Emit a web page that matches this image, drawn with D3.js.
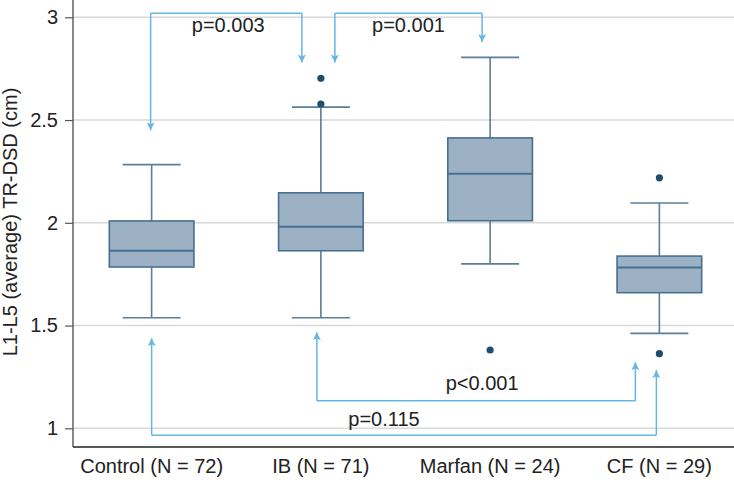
<!DOCTYPE html>
<html lang="en">
  <head>
    <meta charset="UTF-8" />
    <title>L1-L5 TR-DSD boxplot</title>
    <script src="https://d3js.org/d3.v7.min.js"></script>
    <style>
      body {
        margin: 0;
        background: white;
      }
      svg {
        display: block;
        font-family: "Liberation Sans", Arial, Helvetica, sans-serif;
      }
    </style>
  </head>
  <body>
    <svg id="chart" width="734" height="484"></svg>

    <script>
      // groups and box statistics
      const groups = ["Control (N = 72)", "IB (N = 71)", "Marfan (N = 24)", "CF (N = 29)"];
      const lowWhisker = [1.538, 1.538, 1.80, 1.462];
      const q1 = [1.785, 1.864, 2.010, 1.660];
      const median = [1.864, 1.981, 2.239, 1.783];
      const q3 = [2.009, 2.146, 2.413, 1.838];
      const highWhisker = [2.283, 2.563, 2.805, 2.096];
      const outliers = [[], [2.578, 2.703], [1.381], [2.219, 1.363]];

      const yTicks = [1, 1.5, 2, 2.5, 3];

      // comparisons: from group, to group, label, where the arrows end
      const comparisons = [
        { from: 0, to: 1, label: "p=0.003", level: 3.02, tipFrom: 2.45, tipTo: 2.78, labelAt: 2.93 },
        { from: 1, to: 2, label: "p=0.001", level: 3.02, tipFrom: 2.78, tipTo: 2.88, labelAt: 2.93 },
        { from: 1, to: 3, label: "p<0.001", level: 1.134, tipFrom: 1.468, tipTo: 1.322, labelAt: 1.188 },
        { from: 0, to: 3, label: "p=0.115", level: 0.966, tipFrom: 1.438, tipTo: 1.283, labelAt: 1.013 },
      ];
      // arms sit a little off the box centres, labels a little off the bracket middle
      const armShift = [[-1, -19], [14, -8], [-4, -24], [0, -3]];
      const labelShift = [2, 0, 6, -20];

      const svg = d3.select("#chart");
      const width = 734;
      const left = 73;
      const bottom = 447;

      const y = d3.scaleLinear().domain([1, 3]).range([428.3, 17.3]);
      const x = d3.scaleBand().domain(groups).range([67, 744]).paddingInner(0.5).paddingOuter(0.25);
      const cx = (i) => x(groups[i]) + x.bandwidth() / 2;

      // grid
      svg
        .append("g")
        .selectAll("line")
        .data(yTicks)
        .join("line")
        .attr("x1", left)
        .attr("x2", width)
        .attr("y1", (d) => y(d))
        .attr("y2", (d) => y(d))
        .attr("stroke", "#d9d9d9")
        .attr("stroke-width", 1.6);

      // y axis
      const yAxis = svg
        .append("g")
        .attr("transform", `translate(${left},0)`)
        .call(d3.axisLeft(y).tickValues(yTicks).tickFormat(d3.format("")).tickSize(8).tickPadding(7));
      yAxis.select(".domain").remove();
      yAxis.selectAll(".tick line").attr("stroke", "#555").attr("stroke-width", 1.2);
      yAxis.selectAll(".tick text").attr("font-size", 20).attr("fill", "#222").attr("font-family", null);
      svg
        .append("line")
        .attr("x1", left)
        .attr("x2", left)
        .attr("y1", 0)
        .attr("y2", bottom)
        .attr("stroke", "#555")
        .attr("stroke-width", 1.4);

      // x axis
      svg
        .append("line")
        .attr("x1", left)
        .attr("x2", width)
        .attr("y1", bottom)
        .attr("y2", bottom)
        .attr("stroke", "#222")
        .attr("stroke-width", 1.6);
      svg
        .append("g")
        .selectAll("text")
        .data(groups)
        .join("text")
        .attr("x", (d) => x(d) + x.bandwidth() / 2)
        .attr("y", 473)
        .attr("text-anchor", "middle")
        .attr("font-size", 20)
        .attr("fill", "#222")
        .text((d) => d);

      svg
        .append("text")
        .attr("transform", "translate(17,222) rotate(-90)")
        .attr("text-anchor", "middle")
        .attr("font-size", 20)
        .attr("fill", "#222")
        .text("L1-L5 (average) TR-DSD (cm)");

      // boxes
      const boxColor = "#9db1c5";
      const boxStroke = "#47708f";
      const whiskerColor = "#5a7d98";
      const capHalf = 29;

      const box = svg
        .append("g")
        .selectAll("g")
        .data(groups.map((g, i) => i))
        .join("g");

      box
        .append("line")
        .attr("x1", (i) => cx(i))
        .attr("x2", (i) => cx(i))
        .attr("y1", (i) => y(lowWhisker[i]))
        .attr("y2", (i) => y(highWhisker[i]))
        .attr("stroke", whiskerColor)
        .attr("stroke-width", 1.6);
      [lowWhisker, highWhisker].forEach((arr) => {
        box
          .append("line")
          .attr("x1", (i) => cx(i) - capHalf)
          .attr("x2", (i) => cx(i) + capHalf)
          .attr("y1", (i) => y(arr[i]))
          .attr("y2", (i) => y(arr[i]))
          .attr("stroke", whiskerColor)
          .attr("stroke-width", 1.6);
      });
      box
        .append("rect")
        .attr("x", (i) => x(groups[i]))
        .attr("width", x.bandwidth())
        .attr("y", (i) => y(q3[i]))
        .attr("height", (i) => y(q1[i]) - y(q3[i]))
        .attr("fill", boxColor)
        .attr("stroke", boxStroke)
        .attr("stroke-width", 1.6);
      box
        .append("line")
        .attr("x1", (i) => x(groups[i]))
        .attr("x2", (i) => x(groups[i]) + x.bandwidth())
        .attr("y1", (i) => y(median[i]))
        .attr("y2", (i) => y(median[i]))
        .attr("stroke", boxStroke)
        .attr("stroke-width", 2);
      box
        .selectAll("circle")
        .data((i) => outliers[i].map((v) => ({ i, v })))
        .join("circle")
        .attr("cx", (d) => cx(d.i))
        .attr("cy", (d) => y(d.v))
        .attr("r", 3.6)
        .attr("fill", "#1f4d6c");

      // comparison brackets
      const blue = "#66b5e6";
      svg
        .append("defs")
        .append("marker")
        .attr("id", "arrow")
        .attr("viewBox", "0 -5 10 10")
        .attr("refX", 10)
        .attr("refY", 0)
        .attr("markerWidth", 10)
        .attr("markerHeight", 8)
        .attr("markerUnits", "userSpaceOnUse")
        .attr("orient", "auto")
        .append("path")
        .attr("d", "M0,-5L10,0L0,5L2.5,0Z")
        .attr("fill", blue);

      comparisons.forEach((c, k) => {
        const x1 = cx(c.from) + armShift[k][0];
        const x2 = cx(c.to) + armShift[k][1];
        const g = svg.append("g");
        const yl = y(c.level);
        [
          [x1, y(c.tipFrom)],
          [x2, y(c.tipTo)],
        ].forEach(([xx, yy]) => {
          g.append("path")
            .attr("d", `M${xx},${yl}L${xx},${yy}`)
            .attr("fill", "none")
            .attr("stroke", blue)
            .attr("stroke-width", 1.5)
            .attr("marker-end", "url(#arrow)");
        });
        g.append("line")
          .attr("x1", x1)
          .attr("x2", x2)
          .attr("y1", yl)
          .attr("y2", yl)
          .attr("stroke", blue)
          .attr("stroke-width", 1.5);
        g.append("text")
          .attr("x", (x1 + x2) / 2 + labelShift[k])
          .attr("y", y(c.labelAt))
          .attr("text-anchor", "middle")
          .attr("font-size", 20)
          .attr("fill", "#222")
          .text(c.label);
      });
    </script>
  </body>
</html>
